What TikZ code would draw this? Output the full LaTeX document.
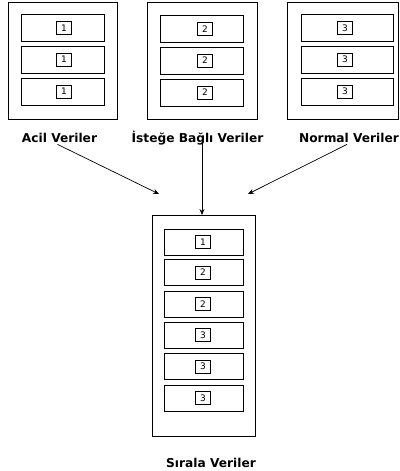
\documentclass[tikz,border=0pt]{standalone}
\usepackage{fontspec}
\setmainfont{DejaVu Sans}
\usetikzlibrary{arrows.meta}
\begin{document}
\begin{tikzpicture}[x=1pt,y=-1pt,
  outer/.style={draw,line width=0.9pt,inner sep=0pt},
  slot/.style={draw,line width=0.8pt,inner sep=0pt,minimum height=27pt},
  tag/.style={draw,line width=0.7pt,inner sep=0pt,minimum width=15pt,minimum height=13pt,font=\fontsize{9}{10}\selectfont},
  lab/.style={font=\bfseries\fontsize{12.2}{13}\selectfont,anchor=base,inner sep=0pt},
  arr/.style={-{Stealth[length=6pt,width=5pt]},line width=0.7pt}]
\useasboundingbox (0,0) rectangle (399,471);
% top boxes
\node[outer,minimum width=109pt,minimum height=117pt] (b1) at (62.5,60.5) {};
\node[outer,minimum width=110pt,minimum height=117pt] (b2) at (202,60.5) {};
\node[outer,minimum width=111pt,minimum height=117pt] (b3) at (342.5,60.5) {};
% slots
\foreach \i/\y in {1/28,2/59.5,3/91.5}{
  \node[slot,minimum width=83pt] (s1\i) at (62.5,\y) {};
  \node[tag] (t1\i) at (64,\y) {1};
}
\foreach \i/\y in {1/29,2/60.5,3/92.5}{
  \node[slot,minimum width=83pt] (s2\i) at (201.5,\y) {};
  \node[tag] (t2\i) at (205,\y) {2};
}
\foreach \i/\y in {1/28,2/59.5,3/91.5}{
  \node[slot,minimum width=92pt] (s3\i) at (347,\y) {};
  \node[tag] (t3\i) at (345,\y) {3};
}
% labels
\node[lab] (l1) at (59.5,142) {Acil Veriler};
\node[lab] (l2) at (197.5,142) {İsteğe Bağlı Veriler};
\node[lab] (l3) at (349,142) {Normal Veriler};
% bottom box
\node[outer,minimum width=103pt,minimum height=221pt] (bot) at (203.5,325.5) {};
\foreach \i/\y/\d in {1/242/1,2/272.5/2,3/304/2,4/335/3,5/366.5/3,6/398/3}{
  \node[slot,minimum width=79pt,minimum height=26pt] (r\i) at (203.5,\y) {};
  \node[tag] (u\i) at (203,\y) {\d};
}
\node[lab] (l4) at (211,467) {Sırala Veriler};
% arrows
\coordinate (e1) at (159,194);
\coordinate (e3) at (248,194);
\draw[arr] (l1.south) ++(-2,2) -- (e1);
\draw[arr] (l2.center -| 202,0) -- (202,215);
\draw[arr] (l3.south) ++(-2,2) -- (e3);
\end{tikzpicture}
\end{document}
